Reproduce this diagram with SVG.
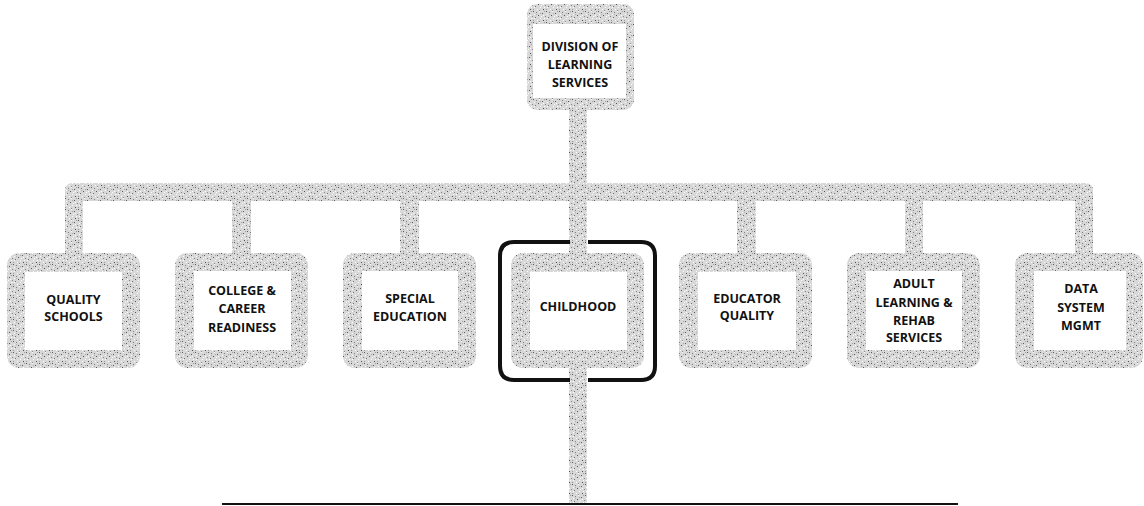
<svg xmlns="http://www.w3.org/2000/svg" width="1144" height="506" viewBox="0 0 1144 506">
<defs>
<pattern id="stip" patternUnits="userSpaceOnUse" width="13" height="11">
<rect width="13" height="11" fill="#d8d8d8"/>
<rect x="0" y="0" width="1" height="1" fill="#5a5a5a"/>
<rect x="3" y="1" width="1" height="1" fill="#808080"/>
<rect x="6" y="0" width="1" height="1" fill="#fff"/>
<rect x="9" y="2" width="1" height="1" fill="#5a5a5a"/>
<rect x="11" y="0" width="1" height="1" fill="#a0a0a0"/>
<rect x="1" y="3" width="1" height="1" fill="#fff"/>
<rect x="5" y="4" width="1" height="1" fill="#555"/>
<rect x="12" y="5" width="1" height="1" fill="#888"/>
<rect x="2" y="6" width="1" height="1" fill="#707070"/>
<rect x="7" y="7" width="1" height="1" fill="#fff"/>
<rect x="0" y="9" width="1" height="1" fill="#999"/>
<rect x="8" y="5" width="1" height="1" fill="#fff"/>
<rect x="3" y="3" width="1" height="1" fill="#b0b0b0"/>
<rect x="10" y="9" width="1" height="1" fill="#4f4f4f"/>
<rect x="4" y="9" width="1" height="1" fill="#fff"/>
<rect x="6" y="10" width="1" height="1" fill="#8a8a8a"/>
<rect x="11" y="7" width="1" height="1" fill="#fff"/>
<rect x="10" y="4" width="1" height="1" fill="#fff"/>
<rect x="1" y="7" width="1" height="1" fill="#fff"/>
<rect x="7" y="2" width="1" height="1" fill="#a8a8a8"/>
</pattern>
</defs>
<style>
.box{fill:url(#stip);}
.inner{fill:#fff;}
.conn{fill:url(#stip);}
text{font-family:"Open Sans","Noto Sans","Liberation Sans",sans-serif;font-weight:700;font-size:12.5px;fill:#111;text-anchor:middle;}
</style>
<rect width="1144" height="506" fill="#fff"/>
<g id="connectors">
<rect class="conn" x="569" y="100" width="18" height="90"/>
<path class="conn" d="M73,183 H1085 Q1093,183 1093,191 V201 H65 V191 Q65,183 73,183 Z"/>
<rect class="conn" x="65" y="195" width="18" height="62"/>
<rect class="conn" x="232" y="195" width="19" height="62"/>
<rect class="conn" x="400" y="195" width="19" height="62"/>
<rect class="conn" x="569" y="195" width="18" height="62"/>
<rect class="conn" x="737" y="195" width="19" height="62"/>
<rect class="conn" x="905" y="195" width="18" height="62"/>
<rect class="conn" x="1075" y="195" width="18" height="62"/>
<rect class="conn" x="569" y="362" width="18" height="141"/>
<rect x="222" y="503" width="736" height="2" fill="#111"/>
</g>
<g id="n-division">
<rect class="box" x="527" y="4" width="107" height="106" rx="10"/>
<rect class="inner" x="533" y="24" width="93" height="74"/>
<text x="580" y="51">DIVISION OF</text>
<text x="580" y="69">LEARNING</text>
<text x="580" y="87">SERVICES</text>
</g>
<g id="n-quality-schools">
<rect class="box" x="7" y="253" width="133" height="115" rx="12"/>
<rect class="inner" x="25" y="272" width="97" height="78"/>
<text x="73.5" y="304">QUALITY</text>
<text x="73.5" y="321">SCHOOLS</text>
</g>
<g id="n-college">
<rect class="box" x="175" y="253" width="133" height="115" rx="12"/>
<rect class="inner" x="194" y="271" width="97" height="79"/>
<text x="242" y="295">COLLEGE &amp;</text>
<text x="242" y="313">CAREER</text>
<text x="242" y="332">READINESS</text>
</g>
<g id="n-special">
<rect class="box" x="343" y="253" width="133" height="115" rx="12"/>
<rect class="inner" x="362" y="271" width="96" height="79"/>
<text x="410" y="303">SPECIAL</text>
<text x="410" y="321">EDUCATION</text>
</g>
<g id="n-childhood">
<rect class="box" x="511" y="253" width="133" height="115" rx="12"/>
<rect class="inner" x="530" y="272" width="97" height="78"/>
<text x="578" y="311">CHILDHOOD</text>
<path d="M588,242 H641 Q655,242 655,256 V366 Q655,380 641,380 H588 M570,380 H514 Q500,380 500,366 V256 Q500,242 514,242 H570" fill="none" stroke="#111" stroke-width="4"/>
</g>
<g id="n-educator">
<rect class="box" x="679" y="253" width="133" height="115" rx="12"/>
<rect class="inner" x="698" y="272" width="98" height="78"/>
<text x="747" y="303">EDUCATOR</text>
<text x="747" y="320">QUALITY</text>
</g>
<g id="n-adult">
<rect class="box" x="847" y="253" width="133" height="115" rx="12"/>
<rect class="inner" x="866" y="271" width="96" height="79"/>
<text x="914" y="288">ADULT</text>
<text x="914" y="307">LEARNING &amp;</text>
<text x="914" y="325">REHAB</text>
<text x="914" y="342">SERVICES</text>
</g>
<g id="n-data">
<rect class="box" x="1015" y="253" width="128" height="115" rx="12"/>
<rect class="inner" x="1034" y="271" width="92" height="79"/>
<text x="1081" y="293">DATA</text>
<text x="1081" y="312">SYSTEM</text>
<text x="1081" y="330">MGMT</text>
</g>
</svg>
